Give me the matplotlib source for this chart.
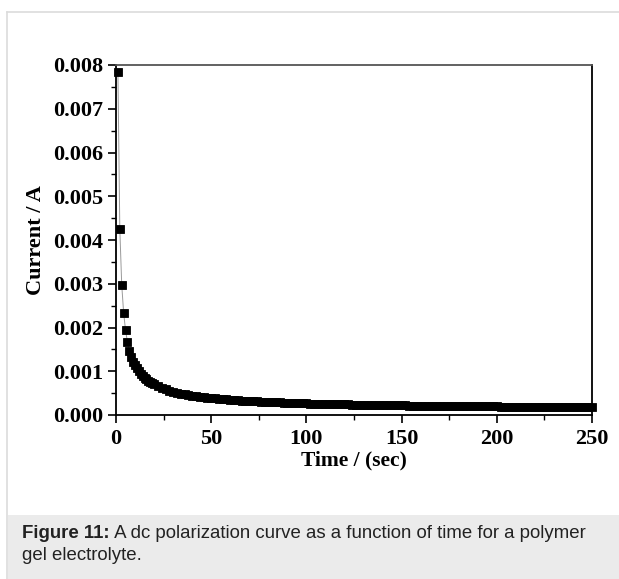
import matplotlib
matplotlib.use("Agg")
import matplotlib.pyplot as plt
from matplotlib.patches import Rectangle
from matplotlib.lines import Line2D
from matplotlib.ticker import MultipleLocator, FormatStrFormatter

# ---- data ----
time_early = [1, 2, 3, 4, 5, 6, 7, 8, 9, 10, 11, 12, 13, 14, 15, 16, 17, 18, 19, 20]
current_early_mA = [7.85, 4.25, 2.98, 2.34, 1.94, 1.67, 1.47, 1.33, 1.21, 1.14,
                    1.065, 1.00, 0.944, 0.895, 0.853, 0.815, 0.781, 0.750, 0.723, 0.698]
time_late = list(range(22, 251, 2))
current_late_mA = [
    0.654, 0.617, 0.585, 0.557, 0.532, 0.511, 0.491, 0.474, 0.458, 0.443,   # 22-40
    0.430, 0.418, 0.407, 0.397, 0.387, 0.378, 0.370, 0.362, 0.355, 0.348,   # 42-60
    0.342, 0.336, 0.330, 0.325, 0.320, 0.315, 0.310, 0.306, 0.301, 0.297,   # 62-80
    0.293, 0.290, 0.286, 0.283, 0.280, 0.276, 0.273, 0.270, 0.268, 0.265,   # 82-100
    0.262, 0.260, 0.258, 0.255, 0.253, 0.251, 0.249, 0.247, 0.245, 0.243,   # 102-120
    0.241, 0.239, 0.237, 0.235, 0.234, 0.232, 0.231, 0.229, 0.228, 0.226,   # 122-140
    0.225, 0.223, 0.222, 0.221, 0.219, 0.218, 0.217, 0.216, 0.214, 0.213,   # 142-160
    0.212, 0.211, 0.210, 0.209, 0.208, 0.207, 0.206, 0.205, 0.204, 0.203,   # 162-180
    0.202, 0.201, 0.200, 0.200, 0.199, 0.198, 0.197, 0.196, 0.196, 0.195,   # 182-200
    0.194, 0.193, 0.193, 0.192, 0.191, 0.190, 0.190, 0.189, 0.188, 0.188,   # 202-220
    0.187, 0.186, 0.186, 0.185, 0.185, 0.184, 0.183, 0.183, 0.182, 0.182,   # 222-240
    0.181, 0.181, 0.180, 0.180, 0.179,                                      # 242-250
]
time_s = time_early + time_late
current_A = [v * 1e-3 for v in current_early_mA + current_late_mA]

x_ticks = [0, 50, 100, 150, 200, 250]
y_ticks = [0.000, 0.001, 0.002, 0.003, 0.004, 0.005, 0.006, 0.007, 0.008]
x_label = "Time / (sec)"
y_label = "Current / A"
caption_bold = "Figure 11:"
caption_line1 = " A dc polarization curve as a function of time for a polymer"
caption_line2 = "gel electrolyte."

# ---- figure ----
W, H = 619, 579
fig = plt.figure(figsize=(W / 100, H / 100), dpi=100)
fig.patch.set_facecolor("white")

# outer frame lines
fig.add_artist(Line2D([7 / W, 1], [1 - 12 / H, 1 - 12 / H], color="#dcdcdc", lw=1.2))
fig.add_artist(Line2D([7 / W, 7 / W], [0, 1 - 12 / H], color="#dcdcdc", lw=1.2))
# caption band
fig.add_artist(Rectangle((7.5 / W, 0), 1 - 7.5 / W, (H - 515) / H,
                         facecolor="#ebebeb", edgecolor="none", zorder=0))

serif = ["Liberation Serif", "DejaVu Serif"]
sans = ["Liberation Sans", "DejaVu Sans"]

ax = fig.add_axes([116 / W, 1 - 415 / H, (592 - 116) / W, (415 - 65) / H])
ax.plot(time_s, current_A, color="#9a9a9a", lw=0.7, marker="s", markersize=5.3,
        markerfacecolor="black", markeredgecolor="black", markeredgewidth=0.6,
        clip_on=False, zorder=3)

ax.set_xlim(0, 250)
ax.set_ylim(0, 0.008)
ax.set_xticks(x_ticks)
ax.set_yticks(y_ticks)
ax.xaxis.set_minor_locator(MultipleLocator(25))
ax.yaxis.set_minor_locator(MultipleLocator(0.0005))
ax.yaxis.set_major_formatter(FormatStrFormatter("%.3f"))
ax.tick_params(which="major", direction="out", length=6, width=1.2)
ax.tick_params(axis="y", which="major", pad=3)
ax.tick_params(axis="x", which="major", pad=4)
ax.tick_params(which="minor", direction="out", length=3.5, width=1.0)
ax.tick_params(top=False, right=False)
for lab in ax.get_xticklabels() + ax.get_yticklabels():
    lab.set_fontfamily(serif)
    lab.set_fontweight("bold")
    lab.set_fontsize(16)
for s in ax.spines.values():
    s.set_linewidth(1.3)
ax.spines["top"].set_color("#555555")

ax.set_xlabel(x_label, fontfamily=serif, fontweight="bold", fontsize=15.5, labelpad=1)
ax.set_ylabel(y_label, fontfamily=serif, fontweight="bold", fontsize=16, labelpad=5)
ax.set_facecolor("white")

# caption
fs_cap = 13.4
t1 = fig.text(22 / W, 1 - 533 / H, caption_bold, fontfamily=sans, fontweight="bold",
              fontsize=fs_cap, va="center", ha="left", color="#222222")
fig.canvas.draw()
bb = t1.get_window_extent()
fig.text(bb.x1 / W, 1 - 533 / H, caption_line1, fontfamily=sans,
         fontsize=fs_cap, va="center", ha="left", color="#222222")
fig.text(22 / W, 1 - 556 / H, caption_line2, fontfamily=sans,
         fontsize=fs_cap, va="center", ha="left", color="#222222")

fig.savefig("out.png", dpi=100)
